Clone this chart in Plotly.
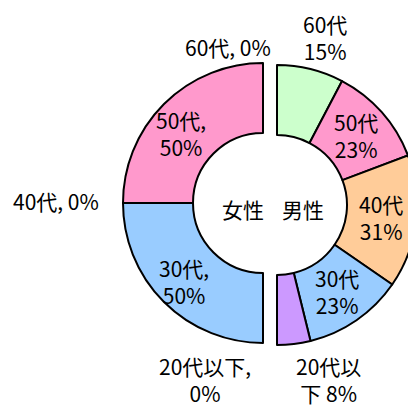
import math
import plotly.graph_objects as go

# ---- data ----
age_labels = ["60代", "50代", "40代", "30代", "20代以下"]
female_counts = [0, 1, 0, 1, 0]
male_counts = [2, 3, 4, 3, 1]
female_text = ["60代, 0%", "50代,<br>50%", "40代, 0%", "30代,<br>50%", "20代以下,<br>0%"]
male_text = ["60代<br>15%", "50代<br>23%", "40代<br>31%", "30代<br>23%", "20代以<br>下 8%"]
colors = ["#CCFFCC", "#FF99CC", "#FFCC99", "#99CCFF", "#CC99FF"]
group_labels = ["女性", "男性"]

# ---- layout geometry (pixels) ----
W, H = 418, 408
R = 140
HOLE = 0.5
centers = {"F": (263, 203), "M": (277, 205)}
FONT = "Noto Sans CJK JP, Noto Sans CJK SC, sans-serif"
FS = 21
# label placement overrides (pixel positions of label centres)
female_label_pos = {0: (228, 47), 1: (181, 134), 2: (56, 201), 3: (184, 281), 4: (205, 379)}
male_label_pos = {0: (325, 37), 4: (328, 379)}
center_label_pos = [(243, 209), (303, 209)]


def px2paper(x, y):
    return x / W, 1 - y / H


def domain_for(c):
    cx, cy = c
    x0, y1 = px2paper(cx - R, cy - R)
    x1, y0 = px2paper(cx + R, cy + R)
    return dict(x=[x0, x1], y=[y0, y1])


def half_pie(counts, direction, c, name):
    vals, labs, cols = [], [], []
    for lab, v, col in zip(age_labels, counts, colors):
        if v > 0:
            vals.append(v)
            labs.append(name + " " + lab)
            cols.append(col)
    vals.append(sum(counts))
    labs.append(name + " blank")
    cols.append("rgba(0,0,0,0)")
    widths = [2] * (len(vals) - 1) + [0]
    # plotly starts a counterclockwise pie so that its first slice ends at the
    # rotation angle; shift it so the first slice starts at 12 o'clock
    rot = 0 if direction == "clockwise" else -360 * vals[0] / sum(vals)
    return go.Pie(
        values=vals, labels=labs, sort=False, direction=direction, rotation=rot,
        hole=HOLE, textinfo="none", hoverinfo="skip", showlegend=False,
        marker=dict(colors=cols, line=dict(color="black", width=widths)),
        domain=domain_for(c), name=name,
    )


fig = go.Figure()
fig.add_trace(half_pie(female_counts, "counterclockwise", centers["F"], "女性"))
fig.add_trace(half_pie(male_counts, "clockwise", centers["M"], "男性"))

annotations = []


def ann(x, y, t):
    xp, yp = px2paper(x, y)
    annotations.append(dict(x=xp, y=yp, xref="paper", yref="paper", text=t,
                            showarrow=False, xanchor="center", yanchor="middle",
                            font=dict(family=FONT, size=FS, color="black")))


def add_labels(counts, texts, sign, c, override):
    total = sum(counts)
    cum = 0
    cx, cy = c
    rmid = R * (1 + HOLE) / 2
    for i, (v, t) in enumerate(zip(counts, texts)):
        mid = (cum + v / 2) / total * math.pi  # slices fill a half circle
        cum += v
        if i in override:
            x, y = override[i]
        else:
            x = cx + sign * rmid * math.sin(mid)
            y = cy - rmid * math.cos(mid)
        ann(x, y, t)


add_labels(female_counts, female_text, -1, centers["F"], female_label_pos)
add_labels(male_counts, male_text, 1, centers["M"], male_label_pos)
for lab, (x, y) in zip(group_labels, center_label_pos):
    ann(x, y, lab)

fig.update_layout(
    width=W, height=H, margin=dict(l=0, r=0, t=0, b=0),
    paper_bgcolor="white", plot_bgcolor="white",
    annotations=annotations,
)

fig.write_html(
    "out.html",
    config={"displayModeBar": False},
    post_script="document.documentElement.style.overflow='hidden';document.body.style.overflow='hidden';document.body.style.margin='0';",
)
